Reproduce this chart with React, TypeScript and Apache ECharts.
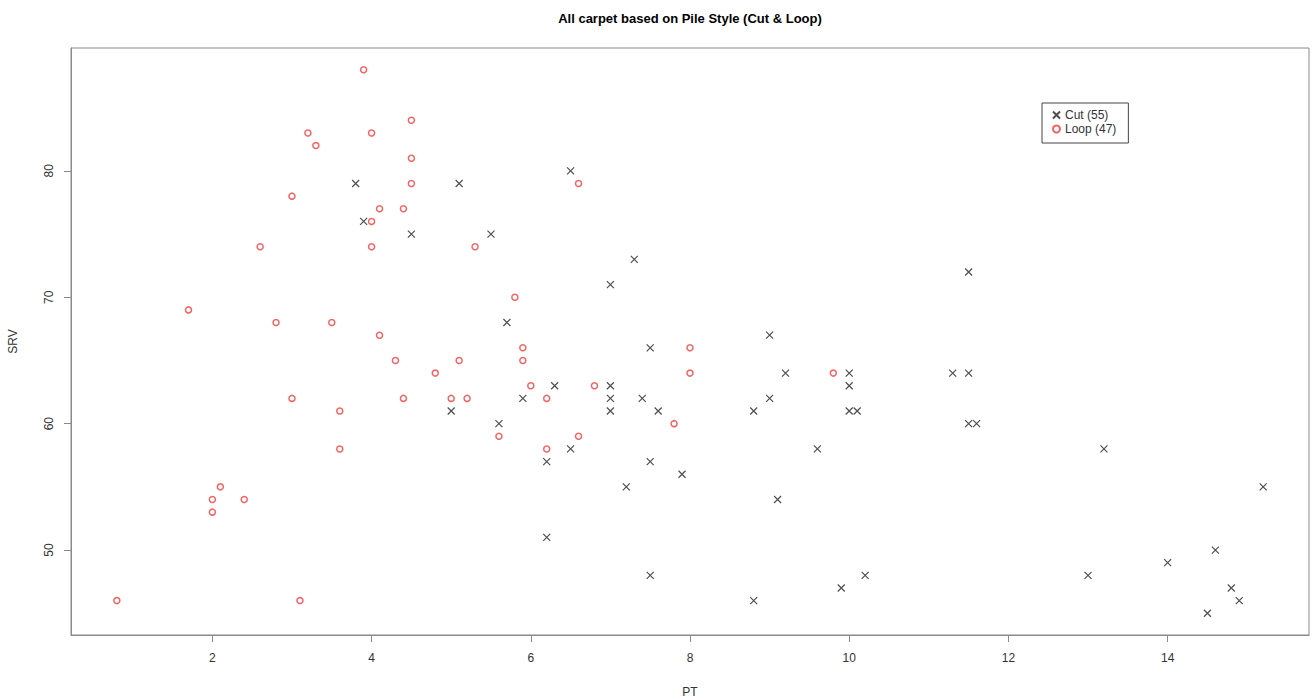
import React, { useEffect, useRef } from "react";
import * as echarts from "echarts";

const cutPT = [3.8, 3.9, 4.5, 5.0, 5.1, 5.5, 5.6, 5.7, 5.9, 6.2, 6.2, 6.3, 6.5, 6.5, 7.0, 7.0, 7.0, 7.0, 7.2, 7.3, 7.4, 7.5, 7.5, 7.5, 7.6, 7.9, 8.8, 8.8, 9.0, 9.0, 9.1, 9.2, 9.6, 9.9, 10.0, 10.0, 10.0, 10.1, 10.2, 11.3, 11.5, 11.5, 11.5, 11.6, 13.0, 13.2, 14.0, 14.5, 14.6, 14.8, 14.9, 15.2];
const cutSRV = [79, 76, 75, 61, 79, 75, 60, 68, 62, 57, 51, 63, 80, 58, 71, 63, 62, 61, 55, 73, 62, 66, 57, 48, 61, 56, 61, 46, 67, 62, 54, 64, 58, 47, 64, 63, 61, 61, 48, 64, 72, 64, 60, 60, 48, 58, 49, 45, 50, 47, 46, 55];

const loopPT = [0.8, 1.7, 2.0, 2.0, 2.1, 2.4, 2.6, 2.8, 3.0, 3.0, 3.1, 3.2, 3.3, 3.5, 3.6, 3.6, 3.9, 4.0, 4.0, 4.0, 4.1, 4.1, 4.3, 4.4, 4.4, 4.5, 4.5, 4.5, 4.8, 5.0, 5.1, 5.2, 5.3, 5.6, 5.8, 5.9, 5.9, 6.0, 6.2, 6.2, 6.6, 6.6, 6.8, 7.8, 8.0, 8.0, 9.8];
const loopSRV = [46, 69, 54, 53, 55, 54, 74, 68, 78, 62, 46, 83, 82, 68, 61, 58, 88, 83, 76, 74, 77, 67, 65, 77, 62, 84, 81, 79, 64, 62, 65, 62, 74, 59, 70, 66, 65, 63, 62, 58, 79, 59, 63, 60, 66, 64, 64];

const seriesNames = ["Cut (55)", "Loop (47)"];
const xTicks = [2, 4, 6, 8, 10, 12, 14];
const yTicks = [50, 60, 70, 80];

const xMin = 0.224;
const xMax = 15.776;
const yMin = 43.28;
const yMax = 89.72;

const FONT = "'Liberation Sans', Arial, sans-serif";

export default function App() {
  const ref = useRef<HTMLDivElement>(null);
  useEffect(() => {
    if (!ref.current) return;
    const chart = echarts.init(ref.current, null, { renderer: "svg" });
    const cutData = cutPT.map((x, i) => [x, cutSRV[i]]);
    const loopData = loopPT.map((x, i) => [x, loopSRV[i]]);
    chart.setOption({
      animation: false,
      backgroundColor: "#ffffff",
      textStyle: { fontFamily: FONT },
      graphic: [
        {
          type: "text",
          x: 690,
          y: 18,
          style: {
            text: "All carpet based on Pile Style (Cut & Loop)",
            textAlign: "center",
            textVerticalAlign: "middle",
            font: "bold 13px " + FONT,
            fill: "#000",
          },
        },
      ],
      grid: {
        left: 71,
        right: 7,
        top: 48,
        bottom: 64,
        show: true,
        borderColor: "#8a8a8a",
        borderWidth: 1,
        backgroundColor: "transparent",
        containLabel: false,
        outerBoundsMode: "none",
      },
      legend: {
        orient: "vertical",
        left: 1042,
        top: 103,
        padding: [6, 12, 8, 10],
        itemGap: 2,
        itemWidth: 7,
        itemHeight: 7,
        borderColor: "#444",
        borderWidth: 1,
        backgroundColor: "#fff",
        textStyle: { fontSize: 12, color: "#333", fontFamily: FONT },
        data: seriesNames,
      },
      xAxis: {
        type: "value",
        min: xMin,
        max: xMax,
        name: "PT",
        nameLocation: "middle",
        nameGap: 51,
        nameTextStyle: { fontSize: 12, color: "#333", fontFamily: FONT },
        splitLine: { show: false },
        axisLine: { show: true, lineStyle: { color: "#8a8a8a" } },
        axisTick: { show: true, length: 7, lineStyle: { color: "#8a8a8a" }, customValues: xTicks },
        axisLabel: { customValues: xTicks, margin: 17, fontSize: 12, color: "#333", fontFamily: FONT },
      },
      yAxis: {
        type: "value",
        min: yMin,
        max: yMax,
        name: "SRV",
        nameLocation: "middle",
        nameGap: 52,
        nameRotate: 90,
        nameTextStyle: { fontSize: 12, color: "#333", fontFamily: FONT },
        splitLine: { show: false },
        axisLine: { show: true, lineStyle: { color: "#8a8a8a" } },
        axisTick: { show: true, length: 7, lineStyle: { color: "#8a8a8a" }, customValues: yTicks },
        axisLabel: { customValues: yTicks, margin: 16, rotate: 90, fontSize: 12, color: "#333", fontFamily: FONT },
      },
      series: [
        {
          name: seriesNames[0],
          type: "scatter",
          data: cutData,
          symbol: "path://M0,0L10,10M10,0L0,10",
          symbolSize: 7,
          itemStyle: { color: "rgba(0,0,0,0)", borderColor: "#222", borderWidth: 1.2 },
        },
        {
          name: seriesNames[1],
          type: "scatter",
          data: loopData,
          symbol: "circle",
          symbolSize: 6,
          itemStyle: { color: "rgba(0,0,0,0)", borderColor: "#f03c3c", borderWidth: 1.5 },
        },
      ],
    });
    return () => chart.dispose();
  }, []);
  return (
    <div
      ref={ref}
      style={{ position: "fixed", left: 0, top: 0, width: 1316, height: 699, background: "#fff" }}
    />
  );
}
